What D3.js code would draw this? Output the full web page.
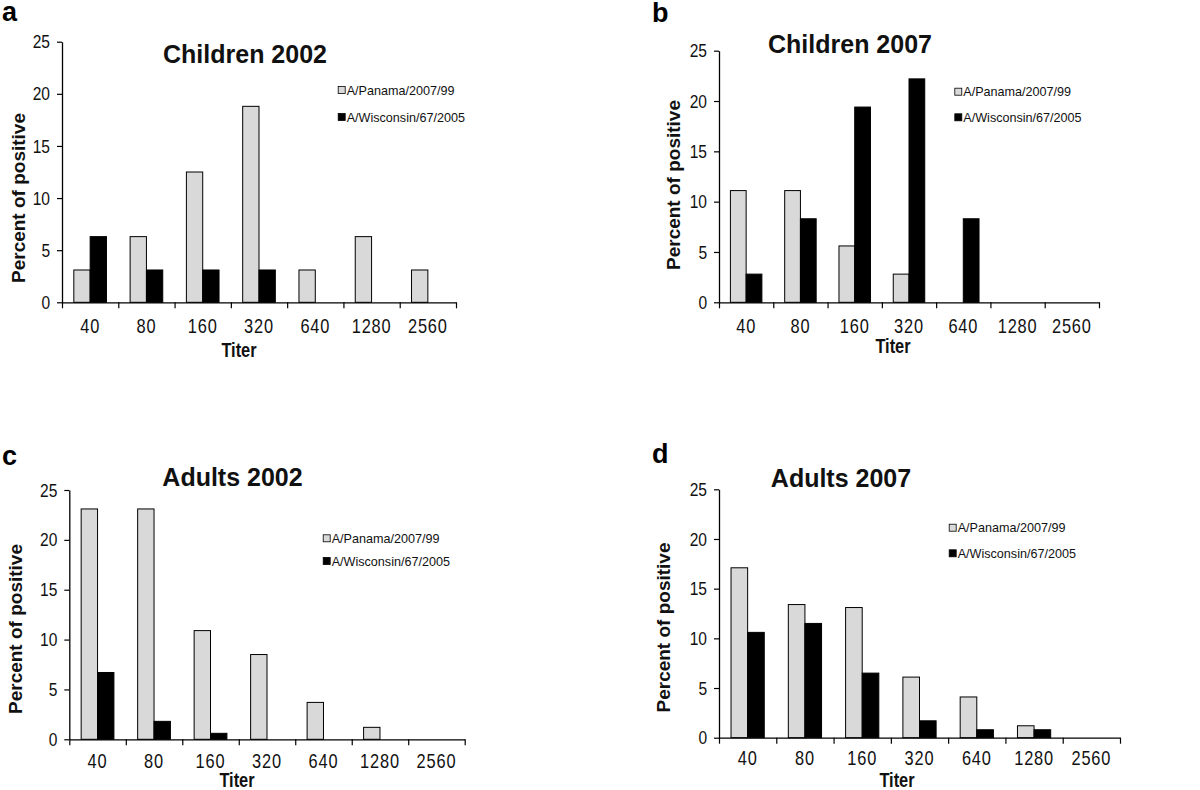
<!DOCTYPE html>
<html>
<head>
<meta charset="utf-8">
<script src="https://cdn.jsdelivr.net/npm/d3@7/dist/d3.min.js"></script>
<style>
  html, body { margin: 0; padding: 0; background: #fff; }
  svg { display: block; }
</style>
</head>
<body>
<svg id="chart" width="1200" height="790"></svg>
<script>
// ---------- DATA ----------
const titers = ["40", "80", "160", "320", "640", "1280", "2560"];
const seriesNames = ["A/Panama/2007/99", "A/Wisconsin/67/2005"];
const yTicks = [0, 5, 10, 15, 20, 25];

const children2002Panama    = [3.1, 6.3, 12.5, 18.8, 3.1, 6.3, 3.1];
const children2002Wisconsin = [6.3, 3.1, 3.1, 3.1, 0, 0, 0];
const children2007Panama    = [11.1, 11.1, 5.6, 2.8, 0, 0, 0];
const children2007Wisconsin = [2.8, 8.3, 19.4, 22.2, 8.3, 0, 0];
const adults2002Panama      = [23.1, 23.1, 10.9, 8.5, 3.7, 1.2, 0];
const adults2002Wisconsin   = [6.7, 1.8, 0.6, 0, 0, 0, 0];
const adults2007Panama      = [17.1, 13.4, 13.1, 6.1, 4.1, 1.2, 0];
const adults2007Wisconsin   = [10.6, 11.5, 6.5, 1.7, 0.8, 0.8, 0];

const panelLetters = ["a", "b", "c", "d"];
const panelTitles = ["Children 2002", "Children 2007", "Adults 2002", "Adults 2007"];
const panelSeries = [
  [children2002Panama, children2002Wisconsin],
  [children2007Panama, children2007Wisconsin],
  [adults2002Panama, adults2002Wisconsin],
  [adults2007Panama, adults2007Wisconsin]
];
const yLabel = "Percent of positive";
const xLabel = "Titer";

// ---------- LAYOUT ----------
const layouts = [
  { x0: 62,  x1: 456,  yTop: 41.7, yBot: 302.3, letter: [2, 20.7],  title: [245, 63.3],
    ylab: [18.3, 198], xlab: [239, 357], tickOff: 31, leg: [341.7, 90, 117] },
  { x0: 719, x1: 1099, yTop: 50.7, yBot: 302.3, letter: [652, 21.7], title: [850, 53.3],
    ylab: [673.3, 185], xlab: [893, 353], tickOff: 31, leg: [958.3, 91.7, 117.3] },
  { x0: 69.3, x1: 464.7, yTop: 490, yBot: 739.3, letter: [2, 465], title: [232.5, 486],
    ylab: [15, 629], xlab: [237, 787], tickOff: 29, leg: [326.7, 538.3, 561] },
  { x0: 719, x1: 1120, yTop: 489.3, yBot: 737.7, letter: [652, 463], title: [841, 487.3],
    ylab: [663, 627.5], xlab: [897, 786.5], tickOff: 27, leg: [952.7, 527.7, 553.3] }
];

const colors = ["#d9d9d9", "#000000"];
const SANS = "'Liberation Sans', Arial, sans-serif";
const SQUEEZE = 0.82; // emulate a narrow face

const svg = d3.select("#chart");

panelSeries.forEach((series, pi) => {
  const L = layouts[pi];
  const g = svg.append("g");

  const y = d3.scaleLinear().domain([0, 25]).range([L.yBot, L.yTop]);
  const x = d3.scaleBand().domain(titers).range([L.x0, L.x1])
    .paddingInner(0.42).paddingOuter(0.21);
  const xs = d3.scaleBand().domain(seriesNames).range([0, x.bandwidth()]);
  const xBound = d3.scaleLinear().domain([0, titers.length]).range([L.x0, L.x1]);

  // bars
  series.forEach((vals, si) => {
    g.append("g").selectAll("rect")
      .data(vals.map((v, i) => ({ t: titers[i], v })).filter(d => d.v > 0))
      .join("rect")
      .attr("x", d => x(d.t) + xs(seriesNames[si]))
      .attr("y", d => y(d.v))
      .attr("width", xs.bandwidth())
      .attr("height", d => y(0) - y(d.v))
      .attr("fill", colors[si])
      .attr("stroke", "#000")
      .attr("stroke-width", 1);
  });

  // y axis
  const yAxis = g.append("g")
    .attr("transform", `translate(${L.x0},0)`)
    .call(d3.axisLeft(y).tickValues(yTicks).tickSize(5).tickPadding(9.6).tickSizeOuter(0));
  yAxis.select(".domain").attr("stroke", "#000").attr("stroke-width", 1.3);
  yAxis.selectAll(".tick line").attr("stroke", "#000").attr("stroke-width", 1.2);
  yAxis.selectAll("text").attr("font-family", SANS).attr("font-size", 19).attr("fill", "#111")
    .attr("transform", `scale(${SQUEEZE},1)`);

  // x axis boundary ticks
  const xb = g.append("g")
    .attr("transform", `translate(0,${L.yBot})`)
    .call(d3.axisBottom(xBound).tickValues(d3.range(0, titers.length + 1)).tickFormat("").tickSize(6).tickSizeOuter(0));
  xb.select(".domain").attr("stroke", "#000").attr("stroke-width", 1.3);
  xb.selectAll(".tick line").attr("stroke", "#000").attr("stroke-width", 1.2);

  // x axis category labels
  const xl = g.append("g")
    .attr("transform", `translate(0,${L.yBot})`)
    .call(d3.axisBottom(x).tickSize(0).tickPadding(L.tickOff - 14));
  xl.select(".domain").remove();
  xl.selectAll("text").attr("font-family", SANS).attr("font-size", 20).attr("fill", "#111")
    .attr("letter-spacing", "1px")
    .attr("transform", `scale(${SQUEEZE},1)`);

  // panel letter
  g.append("text").attr("x", L.letter[0]).attr("y", L.letter[1])
    .attr("font-family", SANS).attr("font-weight", "bold").attr("font-size", 27)
    .text(panelLetters[pi]);

  // title
  g.append("text").attr("x", L.title[0]).attr("y", L.title[1])
    .attr("text-anchor", "middle")
    .attr("font-family", SANS).attr("font-weight", "bold").attr("font-size", 25)
    .attr("fill", "#111")
    .text(panelTitles[pi]);

  // y label
  g.append("text")
    .attr("transform", `translate(${L.ylab[0]},${L.ylab[1]}) rotate(-90)`)
    .attr("text-anchor", "middle").attr("dy", "0.35em")
    .attr("font-family", SANS).attr("font-weight", "bold").attr("font-size", 19)
    .attr("fill", "#111")
    .text(yLabel);

  // x label
  g.append("text")
    .attr("transform", `translate(${L.xlab[0]},${L.xlab[1]}) scale(${SQUEEZE},1)`)
    .attr("text-anchor", "middle")
    .attr("font-family", SANS).attr("font-weight", "bold").attr("font-size", 20)
    .attr("fill", "#111")
    .text(xLabel);

  // legend
  seriesNames.forEach((name, si) => {
    const cy = L.leg[1 + si];
    const lg = g.append("g");
    lg.append("rect")
      .attr("x", L.leg[0] - 3.5).attr("y", cy - 3.5)
      .attr("width", 7).attr("height", 7)
      .attr("fill", colors[si]).attr("stroke", "#000").attr("stroke-width", 0.8);
    lg.append("text")
      .attr("x", L.leg[0] + 5).attr("y", cy).attr("dy", "0.36em")
      .attr("font-family", SANS).attr("font-size", 12.6).attr("fill", "#111")
      .text(name);
  });
});
</script>
</body>
</html>
